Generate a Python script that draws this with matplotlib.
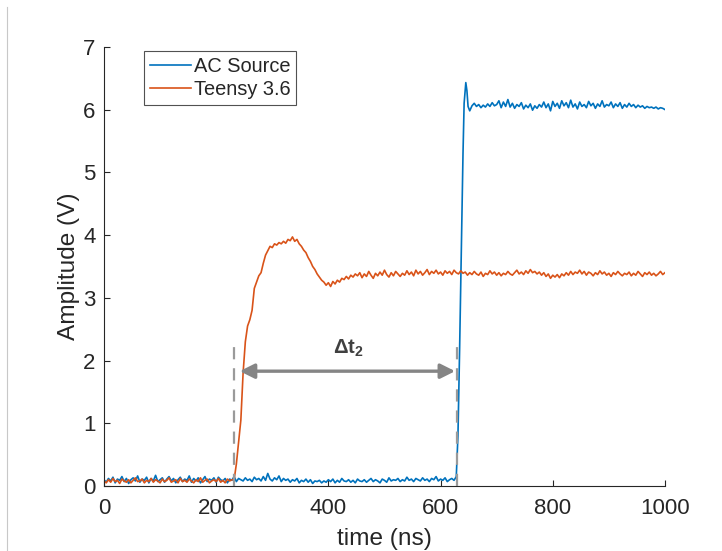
import numpy as np
import matplotlib
matplotlib.use("Agg")
import matplotlib.pyplot as plt
from matplotlib.lines import Line2D

plt.rcParams['font.family'] = ['Liberation Sans', 'DejaVu Sans']
plt.rcParams['mathtext.fontset'] = 'custom'
plt.rcParams['mathtext.rm'] = 'Liberation Sans'
plt.rcParams['mathtext.bf'] = 'Liberation Sans:bold'
plt.rcParams['mathtext.it'] = 'Liberation Sans:italic'

# ---- AC source trace (V) ----
ac_base_start, ac_base_step = 0, 4
ac_base = [
    0.10, 0.06, 0.12, 0.08, 0.14, 0.05, 0.11, 0.09, 0.15, 0.07,
    0.12, 0.04, 0.10, 0.13, 0.08, 0.16, 0.06, 0.11, 0.09, 0.14,
    0.05, 0.12, 0.08, 0.17, 0.07, 0.10, 0.13, 0.06, 0.11, 0.15,
    0.08, 0.12, 0.05, 0.10, 0.14, 0.07, 0.11, 0.09, 0.16, 0.06,
    0.12, 0.08, 0.13, 0.05, 0.10, 0.15, 0.07, 0.11, 0.09, 0.13,
    0.06, 0.14, 0.10, 0.08, 0.12, 0.05, 0.11, 0.09, 0.15, 0.07,
    0.12, 0.10, 0.08, 0.13, 0.09, 0.11, 0.07, 0.14, 0.10, 0.12,
    0.08, 0.15, 0.09, 0.20, 0.11, 0.08, 0.13, 0.10, 0.16, 0.07,
    0.12, 0.09, 0.11, 0.06, 0.10, 0.08, 0.12, 0.05, 0.09, 0.07,
    0.11, 0.06, 0.10, 0.04, 0.08, 0.07, 0.09, 0.05, 0.08, 0.06,
    0.10, 0.07, 0.11, 0.05, 0.09, 0.06, 0.12, 0.08, 0.07, 0.10,
    0.06, 0.09, 0.05, 0.11, 0.08, 0.07, 0.10, 0.06, 0.09, 0.12,
    0.07, 0.10, 0.08, 0.05, 0.11, 0.09, 0.06, 0.13, 0.08, 0.10,
    0.09, 0.12, 0.07, 0.10, 0.08, 0.14, 0.09, 0.11, 0.07, 0.12,
    0.10, 0.08, 0.13, 0.09, 0.11, 0.07, 0.12, 0.10, 0.15, 0.08,
    0.11, 0.09, 0.13, 0.07, 0.10, 0.12, 0.09,
]
ac_edge_t = [628, 631, 634, 637, 640, 642, 645, 647, 649, 652, 656]
ac_edge_v = [0.15, 0.80, 2.20, 3.80, 5.30, 6.10, 6.43, 6.30, 6.05, 5.98, 6.06]
ac_high_start, ac_high_step = 660, 4
ac_high = [
    6.10, 6.05, 6.08, 6.03, 6.07, 6.04, 6.09, 6.05, 6.11, 6.06,
    6.08, 6.14, 6.03, 6.12, 6.05, 6.16, 6.04, 6.10, 6.02, 6.08,
    6.05, 6.11, 6.01, 6.07, 6.03, 6.09, 5.99, 6.06, 6.02, 6.08,
    6.04, 6.12, 6.03, 6.09, 5.98, 6.13, 6.05, 6.10, 6.02, 6.14,
    6.06, 6.11, 6.03, 6.15, 6.04, 6.09, 6.01, 6.12, 6.05, 6.08,
    6.03, 6.13, 6.06, 6.10, 6.02, 6.09, 6.05, 6.14, 6.04, 6.08,
    6.06, 6.12, 6.03, 6.09, 6.05, 6.11, 6.02, 6.08, 6.04, 6.10,
    6.05, 6.08, 6.03, 6.07, 6.04, 6.06, 6.02, 6.05, 6.03, 6.04,
    6.02, 6.04, 6.01, 6.03, 6.02, 6.00,
]

# ---- Teensy 3.6 trace (V) ----
tn_base_start, tn_base_step = 0, 4
tn_base = [
    0.08, 0.05, 0.10, 0.06, 0.12, 0.07, 0.09, 0.04, 0.11, 0.08,
    0.06, 0.10, 0.05, 0.09, 0.13, 0.07, 0.08, 0.11, 0.05, 0.09,
    0.07, 0.12, 0.06, 0.10, 0.08, 0.05, 0.11, 0.07, 0.09, 0.13,
    0.06, 0.08, 0.10, 0.05, 0.12, 0.07, 0.09, 0.06, 0.11, 0.08,
    0.05, 0.10, 0.07, 0.13, 0.06, 0.09, 0.11, 0.05, 0.08, 0.10,
    0.07, 0.12, 0.06, 0.09, 0.05, 0.11, 0.08, 0.10,
]
tn_rise_start, tn_rise_step = 232, 4
tn_rise = [
    0.10, 0.35, 0.70, 1.05, 1.80, 2.30, 2.55, 2.65, 2.80, 3.15,
    3.25, 3.35, 3.40, 3.55, 3.68, 3.75, 3.82, 3.80, 3.86, 3.84,
    3.88, 3.86, 3.90, 3.87, 3.93, 3.91, 3.97, 3.90, 3.93, 3.86,
    3.82, 3.76, 3.72, 3.64, 3.58, 3.50, 3.45, 3.38, 3.33, 3.28,
    3.25, 3.20, 3.24, 3.18, 3.26, 3.22, 3.28, 3.25, 3.31, 3.29,
    3.34, 3.30, 3.36, 3.33, 3.38,
]
tn_high_start, tn_high_step = 452, 4
tn_high = [
    3.35, 3.40, 3.32, 3.38, 3.34, 3.42, 3.36, 3.31, 3.39, 3.35,
    3.41, 3.36, 3.44, 3.37, 3.33, 3.40, 3.35, 3.42, 3.38, 3.34,
    3.39, 3.36, 3.43, 3.37, 3.41, 3.35, 3.44, 3.38, 3.42, 3.36,
    3.40, 3.45, 3.37, 3.42, 3.39, 3.44, 3.38, 3.41, 3.36, 3.43,
    3.39, 3.42, 3.37, 3.44, 3.40, 3.38, 3.43, 3.39, 3.41, 3.36,
    3.40, 3.37, 3.42, 3.38, 3.36, 3.41, 3.34, 3.39, 3.37, 3.43,
    3.38, 3.41, 3.36, 3.40, 3.35, 3.39, 3.37, 3.42, 3.38, 3.36,
    3.40, 3.44, 3.38, 3.41, 3.37, 3.43, 3.39, 3.45, 3.40, 3.42,
    3.38, 3.41, 3.36, 3.40, 3.34, 3.38, 3.31, 3.36, 3.33, 3.37,
    3.32, 3.38, 3.35, 3.40, 3.36, 3.42, 3.37, 3.41, 3.39, 3.44,
    3.38, 3.42, 3.36, 3.41, 3.39, 3.35, 3.40, 3.37, 3.43, 3.38,
    3.41, 3.36, 3.39, 3.34, 3.40, 3.37, 3.42, 3.38, 3.35, 3.39,
    3.37, 3.41, 3.35, 3.39, 3.36, 3.42, 3.38, 3.34, 3.40, 3.37,
    3.41, 3.36, 3.39, 3.35, 3.38, 3.42, 3.37, 3.40,
]

# ---- delay annotation ----
t_teensy_edge = 232
t_ac_edge = 629
marker_top = 2.3
arrow_level = 1.83
delay_label = r'$\mathbf{\Delta t_2}$'

x_ticks = [0, 200, 400, 600, 800, 1000]
y_ticks = [0, 1, 2, 3, 4, 5, 6, 7]


def segment(start, step, values):
    return start + step * np.arange(len(values))


ac_t = np.concatenate([segment(ac_base_start, ac_base_step, ac_base),
                       ac_edge_t,
                       segment(ac_high_start, ac_high_step, ac_high)])
ac_v = np.concatenate([ac_base, ac_edge_v, ac_high])
tn_t = np.concatenate([segment(tn_base_start, tn_base_step, tn_base),
                       segment(tn_rise_start, tn_rise_step, tn_rise),
                       segment(tn_high_start, tn_high_step, tn_high)])
tn_v = np.concatenate([tn_base, tn_rise, tn_high])

blue = '#0072BD'
orange = '#D95319'
dark = '#262626'

fig = plt.figure(figsize=(7.22, 5.51), dpi=100)
ax = fig.add_axes([0.144, 0.118, 0.777, 0.797])

ax.plot(ac_t, ac_v, color=blue, lw=1.2, label='AC Source')
ax.plot(tn_t, tn_v, color=orange, lw=1.2, label='Teensy 3.6')

# dashed edge markers
for xe in (t_teensy_edge, t_ac_edge):
    ax.plot([xe, xe], [0, marker_top], color='#9a9a9a', lw=1.6,
            linestyle=(0, (5.5, 4.0)), zorder=3)

# double-headed arrow between the edges
ax.annotate('', xy=(t_teensy_edge + 10, arrow_level),
            xytext=(t_ac_edge - 3, arrow_level),
            arrowprops=dict(arrowstyle='<|-|>', color='#858585', lw=2.4,
                            mutation_scale=22, shrinkA=0, shrinkB=0),
            zorder=4)
ax.text((t_teensy_edge + t_ac_edge) / 2 + 5, arrow_level + 0.2, delay_label,
        ha='center', va='bottom', fontsize=14.5, color='#404040')

ax.set_xlim(0, 1000)
ax.set_ylim(0, 7)
ax.set_xticks(x_ticks)
ax.set_yticks(y_ticks)
ax.tick_params(direction='in', length=4, width=0.8, colors=dark,
               labelsize=16)
ax.tick_params(axis='x', pad=9)
ax.tick_params(axis='y', pad=6)
for side in ('top', 'right'):
    ax.spines[side].set_visible(False)
for side in ('left', 'bottom'):
    ax.spines[side].set_color(dark)
    ax.spines[side].set_linewidth(0.8)

ax.set_xlabel('time (ns)', fontsize=17.6, color=dark, labelpad=6)
ax.set_ylabel('Amplitude (V)', fontsize=17.6, color=dark, labelpad=2)

leg = ax.legend(loc='upper left', bbox_to_anchor=(0.071, 0.99),
                fontsize=14.4, frameon=True, fancybox=False,
                handlelength=2.05, handletextpad=0.15, labelspacing=0.2,
                borderpad=0.3, borderaxespad=0)
leg.get_frame().set_edgecolor(dark)
leg.get_frame().set_linewidth(0.8)
for txt in leg.get_texts():
    txt.set_color(dark)

# thin border line at the left edge of the figure
fig.add_artist(Line2D([7 / 722, 7 / 722], [0, 1 - 7 / 551],
                      transform=fig.transFigure, color='#c8c8c8', lw=0.8))

fig.savefig('out.png', dpi=100)
